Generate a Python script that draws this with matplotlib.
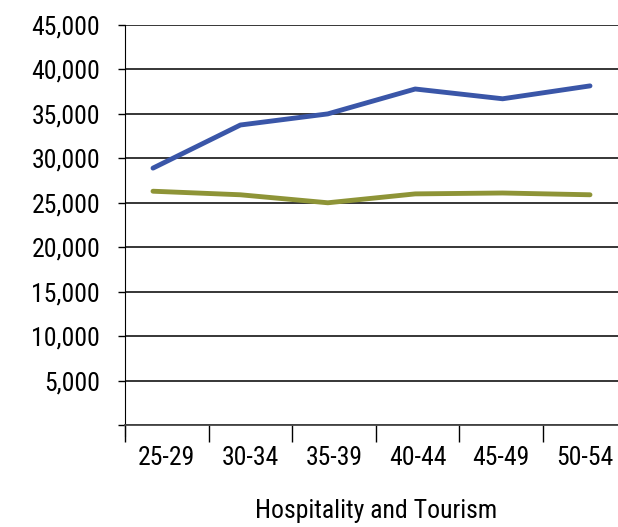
import matplotlib
matplotlib.use("Agg")
import matplotlib.pyplot as plt
from matplotlib.ticker import FuncFormatter, FixedLocator

age_groups = ["25-29", "30-34", "35-39", "40-44", "45-49", "50-54"]
series_blue = [28900, 33750, 35000, 37800, 36700, 38150]
series_olive = [26300, 25900, 25000, 26000, 26100, 25900]
x_title = "Hospitality and Tourism"

plt.rcParams["font.family"] = ["Roboto Condensed", "DejaVu Sans"]
FS = 18.5

fig = plt.figure(figsize=(6.18, 5.27), dpi=100)
ax = fig.add_axes([125 / 618, 102 / 527, 493 / 618, 400 / 527])

# category axis, ticks between categories
n = len(age_groups)
ax.set_xlim(-0.5, -0.5 + 493 / 83.6)
ax.set_ylim(0, 45000)
ax.xaxis.set_major_locator(FixedLocator([i - 0.5 for i in range(n)]))
ax.xaxis.set_minor_locator(FixedLocator(list(range(n))))
ax.xaxis.set_minor_formatter(FuncFormatter(lambda v, p: age_groups[int(round(v))] if 0 <= round(v) < n else ""))
ax.set_xticklabels([])
ax.tick_params(axis="x", which="major", length=12, width=1, color="black", direction="out")
ax.tick_params(axis="x", which="minor", length=0, pad=15, labelsize=FS)

ax.set_yticks(range(0, 45001, 5000))
ax.yaxis.set_major_formatter(FuncFormatter(lambda v, p: "" if v == 0 else f"{int(v):,}"))
ax.tick_params(axis="y", length=5, width=1, pad=13, labelsize=FS)
ax.grid(axis="y", color="black", linewidth=1.1)
ax.set_axisbelow(True)

for s in ["top", "right"]:
    ax.spines[s].set_visible(False)
ax.spines["left"].set_bounds(-1200, 45000)
ax.spines["bottom"].set_color("#444444")
ax.spines["bottom"].set_linewidth(1.3)

# lines on a twin x-scale
ax2 = ax.twiny()
ax2.set_xlim(-(153 - 125) / 87.4, (618 - 153) / 87.4)
ax2.set_ylim(0, 45000)
ax2.axis("off")
xs = list(range(n))
ax2.plot(xs, series_blue, color="#3A56A8", linewidth=3.5, solid_capstyle="round", solid_joinstyle="round")
ax2.plot(xs, series_olive, color="#8E9437", linewidth=3.5, solid_capstyle="round", solid_joinstyle="round")

fig.text(376 / 618, 1 - 511 / 527, x_title, ha="center", va="center", fontsize=FS)

fig.savefig("out.png", dpi=100)
